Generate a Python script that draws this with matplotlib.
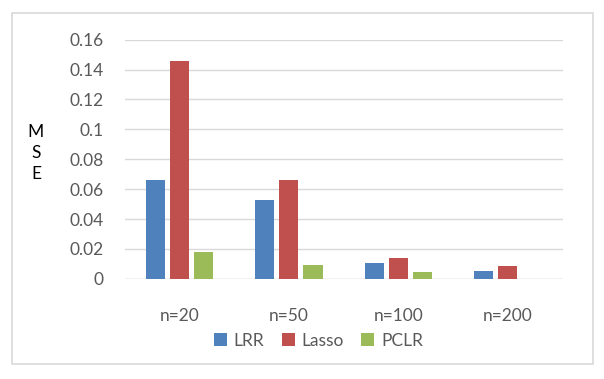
import matplotlib
matplotlib.use("Agg")
import matplotlib.pyplot as plt
import numpy as np
from matplotlib.patches import Rectangle, Patch

categories = ["n=20", "n=50", "n=100", "n=200"]
series_names = ["LRR", "Lasso", "PCLR"]
lrr = [0.0661, 0.0527, 0.0108, 0.0054]
lasso = [0.1454, 0.0661, 0.0142, 0.0088]
pclr = [0.0177, 0.0090, 0.0047, 0.0]
yticks = [0, 0.02, 0.04, 0.06, 0.08, 0.1, 0.12, 0.14, 0.16]
ytick_labels = ["0", "0.02", "0.04", "0.06", "0.08", "0.1", "0.12", "0.14", "0.16"]
colors = ["#4F81BD", "#C0504D", "#9BBB59"]

plt.rcParams['font.family'] = ['Lato', 'DejaVu Sans']
txt = "#595959"
grid = "#D9D9D9"
fs = 12.5

fig = plt.figure(figsize=(6.04, 3.79), dpi=100)
fig.patches.append(Rectangle((0.0199, 0.0396), 0.9619, 0.9261, transform=fig.transFigure,
                             fill=False, edgecolor=grid, linewidth=1.2))
ax = fig.add_axes([0.2065, 0.2641, 0.7248, 0.6314])

x = np.arange(len(categories))
w = 0.175
step = 0.22
for i, (vals, c) in enumerate(zip([lrr, lasso, pclr], colors)):
    ax.bar(x + (i - 1) * step, vals, width=w, color=c, label=series_names[i], zorder=3)

ax.set_xlim(-0.5, len(categories) - 0.5)
ax.set_ylim(0, 0.16)
ax.set_yticks(yticks)
ax.set_yticklabels(ytick_labels)
ax.set_xticks(x)
ax.set_xticklabels(categories)
ax.yaxis.grid(True, color=grid, linewidth=1.0, zorder=0)
ax.axhline(0, color=grid, linewidth=1.0, zorder=1)
for s in ax.spines.values():
    s.set_visible(False)
ax.tick_params(axis='both', length=0, labelsize=fs, labelcolor=txt)
ax.tick_params(axis='y', pad=15)
ax.tick_params(axis='x', pad=21)

fig.text(0.0595, 0.596, "M\nS\nE", ha='center', va='center', fontsize=fs, color="black",
         linespacing=1.38)

handles = [Patch(facecolor=c, label=n) for c, n in zip(colors, series_names)]
fig.legend(handles=handles, loc='center', bbox_to_anchor=(0.527, 0.101), ncol=3,
           frameon=False, fontsize=fs, labelcolor=txt, handlelength=0.75, handleheight=0.75,
           handletextpad=0.4, columnspacing=1.0)

fig.savefig("out.png", dpi=100)
